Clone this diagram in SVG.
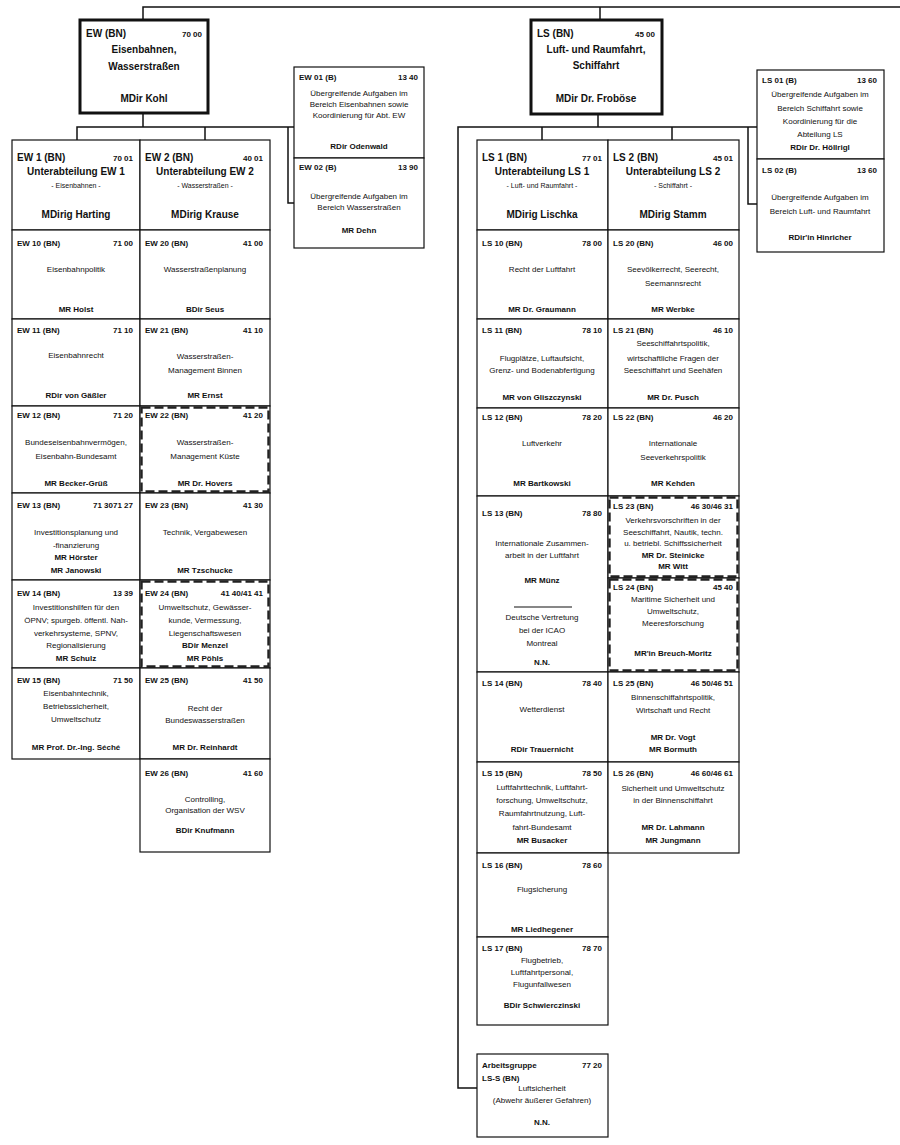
<svg xmlns="http://www.w3.org/2000/svg" width="900" height="1145" viewBox="0 0 900 1145">
<style>
text{font-family:"Liberation Sans",Arial,sans-serif;fill:#111}
.box{fill:#fff;stroke:#111;stroke-width:1.2}
.top{fill:#fff;stroke:#111;stroke-width:3}
.dash{fill:none;stroke:#222;stroke-width:2.4;stroke-dasharray:9 4}
.vd{fill:none;stroke:#111;stroke-width:1;stroke-dasharray:6 2}
.con{fill:none;stroke:#111;stroke-width:1.5}
.lbl{font-size:8px;font-weight:bold}
.num{font-size:8px;font-weight:bold;text-anchor:end}
.t{font-size:8px;text-anchor:middle}
.n{font-size:8px;font-weight:bold;text-anchor:middle}
.hl{font-size:10px;font-weight:bold}
.ht{font-size:10px;font-weight:bold;text-anchor:middle}
.hs{font-size:7px;text-anchor:middle}
</style>
<rect width="900" height="1145" fill="#fff"/>
<g id="connectors">
<path class="con" d="M143,20 V7 H900"/>
<path class="con" d="M600,7 V20"/>
<path class="con" d="M143,113 V127"/>
<path class="con" d="M77,140 V127 H294"/>
<path class="con" d="M205,127 V140"/>
<path class="con" d="M288,127 V203 H294"/>
<path class="con" d="M598,114 V127"/>
<path class="con" d="M477,1088 H458 V127 H757"/>
<path class="con" d="M542,127 V140"/>
<path class="con" d="M672,127 V140"/>
<path class="con" d="M748,127 V204 H757"/>
</g>

<g id="EW">
<rect class="top" x="80" y="20" width="128" height="93"/>
<text class="hl" x="86" y="37">EW (BN)</text><text class="num" x="202" y="37">70 00</text>
<text class="ht" x="144" y="53">Eisenbahnen,</text>
<text class="ht" x="144" y="70">Wasserstraßen</text>
<text class="ht" x="144" y="102">MDir Kohl</text>
</g>
<g id="LS">
<rect class="top" x="531" y="20" width="131" height="94"/>
<text class="hl" x="537" y="37">LS (BN)</text><text class="num" x="655" y="37">45 00</text>
<text class="ht" x="596" y="53">Luft- und Raumfahrt,</text>
<text class="ht" x="596" y="69">Schiffahrt</text>
<text class="ht" x="596" y="102">MDir Dr. Froböse</text>
</g>

<g id="EW01">
<rect class="box" x="294" y="67" width="130" height="91"/>
<text class="lbl" x="299" y="80">EW 01 (B)</text><text class="num" x="418" y="80">13 40</text>
<text class="t" x="359" y="96">Übergreifende Aufgaben im</text>
<text class="t" x="359" y="107">Bereich Eisenbahnen  sowie</text>
<text class="t" x="359" y="118">Koordinierung für Abt. EW</text>
<text class="n" x="359" y="149">RDir Odenwald</text>
</g>
<g id="EW02">
<rect class="box" x="294" y="158" width="130" height="90"/>
<text class="lbl" x="299" y="170">EW 02 (B)</text><text class="num" x="418" y="170">13 90</text>
<text class="t" x="359" y="199">Übergreifende Aufgaben im</text>
<text class="t" x="359" y="210">Bereich Wasserstraßen</text>
<text class="n" x="359" y="233">MR Dehn</text>
</g>

<g id="EW1">
<rect class="box" x="12" y="140" width="128" height="90"/>
<text class="hl" x="17" y="161">EW 1 (BN)</text><text class="num" x="133" y="161">70 01</text>
<text class="ht" x="76" y="175">Unterabteilung EW 1</text>
<text class="hs" x="76" y="188">- Eisenbahnen -</text>
<text class="ht" x="76" y="218">MDirig Harting</text>
</g>
<g id="EW2">
<rect class="box" x="140" y="140" width="130" height="90"/>
<text class="hl" x="145" y="161">EW 2 (BN)</text><text class="num" x="263" y="161">40 01</text>
<text class="ht" x="205" y="175">Unterabteilung EW 2</text>
<text class="hs" x="205" y="188">- Wasserstraßen -</text>
<text class="ht" x="205" y="218">MDirig Krause</text>
</g>

<g id="EW10">
<rect class="box" x="12" y="230" width="128" height="89"/>
<text class="lbl" x="17" y="246">EW 10 (BN)</text><text class="num" x="133" y="246">71 00</text>
<text class="t" x="76" y="272">Eisenbahnpolitik</text>
<text class="n" x="76" y="312">MR Holst</text>
</g>
<g id="EW20">
<rect class="box" x="140" y="230" width="130" height="89"/>
<text class="lbl" x="145" y="246">EW 20 (BN)</text><text class="num" x="263" y="246">41 00</text>
<text class="t" x="205" y="272">Wasserstraßenplanung</text>
<text class="n" x="205" y="312">BDir Seus</text>
</g>
<g id="EW11">
<rect class="box" x="12" y="319" width="128" height="87"/>
<text class="lbl" x="17" y="333">EW 11 (BN)</text><text class="num" x="133" y="333">71 10</text>
<text class="t" x="76" y="358">Eisenbahnrecht</text>
<text class="n" x="76" y="398">RDir von Gäßler</text>
</g>
<g id="EW21">
<rect class="box" x="140" y="319" width="130" height="87"/>
<text class="lbl" x="145" y="333">EW 21 (BN)</text><text class="num" x="263" y="333">41 10</text>
<text class="t" x="205" y="359">Wasserstraßen-</text>
<text class="t" x="205" y="373">Management Binnen</text>
<text class="n" x="205" y="398">MR Ernst</text>
</g>
<g id="EW12">
<rect class="box" x="12" y="406" width="128" height="87"/>
<text class="lbl" x="17" y="418">EW 12 (BN)</text><text class="num" x="133" y="418">71 20</text>
<text class="t" x="76" y="445">Bundeseisenbahnvermögen,</text>
<text class="t" x="76" y="459">Eisenbahn-Bundesamt</text>
<text class="n" x="76" y="486">MR Becker-Grüß</text>
</g>
<g id="EW22">
<rect class="box" x="140" y="406" width="130" height="87"/>
<rect class="dash" x="141.5" y="407.5" width="127" height="84"/>
<text class="lbl" x="145" y="418">EW 22 (BN)</text><text class="num" x="263" y="418">41 20</text>
<text class="t" x="205" y="445">Wasserstraßen-</text>
<text class="t" x="205" y="459">Management Küste</text>
<text class="n" x="205" y="486">MR Dr. Hovers</text>
</g>
<g id="EW13">
<rect class="box" x="12" y="493" width="128" height="87"/>
<text class="lbl" x="17" y="508">EW 13 (BN)</text><text class="num" x="133" y="508">71 3071 27</text>
<text class="t" x="76" y="535">Investitionsplanung und</text>
<text class="t" x="76" y="548">-finanzierung</text>
<text class="n" x="76" y="560">MR Hörster</text>
<text class="n" x="76" y="573">MR Janowski</text>
</g>
<g id="EW23">
<rect class="box" x="140" y="493" width="130" height="87"/>
<text class="lbl" x="145" y="508">EW 23 (BN)</text><text class="num" x="263" y="508">41 30</text>
<text class="t" x="205" y="535">Technik, Vergabewesen</text>
<text class="n" x="205" y="573">MR Tzschucke</text>
</g>
<g id="EW14">
<rect class="box" x="12" y="580" width="128" height="88"/>
<text class="lbl" x="17" y="596">EW 14 (BN)</text><text class="num" x="133" y="596">13 39</text>
<text class="t" x="76" y="610">Investitionshilfen für den</text>
<text class="t" x="76" y="623">ÖPNV; spurgeb. öffentl. Nah-</text>
<text class="t" x="76" y="636">verkehrsysteme, SPNV,</text>
<text class="t" x="76" y="648">Regionalisierung</text>
<text class="n" x="76" y="661">MR Schulz</text>
</g>
<g id="EW24">
<rect class="box" x="140" y="580" width="130" height="88"/>
<rect class="dash" x="141.5" y="581.5" width="127" height="85"/>
<text class="lbl" x="145" y="596">EW 24 (BN)</text><text class="num" x="263" y="596">41 40/41 41</text>
<text class="t" x="205" y="610">Umweltschutz, Gewässer-</text>
<text class="t" x="205" y="623">kunde, Vermessung,</text>
<text class="t" x="205" y="636">Liegenschaftswesen</text>
<text class="n" x="205" y="648">BDir Menzel</text>
<text class="n" x="205" y="661">MR Pöhls</text>
</g>
<g id="EW15">
<rect class="box" x="12" y="668" width="128" height="91"/>
<text class="lbl" x="17" y="683">EW 15 (BN)</text><text class="num" x="133" y="683">71 50</text>
<text class="t" x="76" y="696">Eisenbahntechnik,</text>
<text class="t" x="76" y="709">Betriebssicherheit,</text>
<text class="t" x="76" y="722">Umweltschutz</text>
<text class="n" x="76" y="750">MR Prof. Dr.-Ing. Séché</text>
</g>
<g id="EW25">
<rect class="box" x="140" y="668" width="130" height="91"/>
<text class="lbl" x="145" y="683">EW 25 (BN)</text><text class="num" x="263" y="683">41 50</text>
<text class="t" x="205" y="711">Recht der</text>
<text class="t" x="205" y="723">Bundeswasserstraßen</text>
<text class="n" x="205" y="750">MR Dr. Reinhardt</text>
</g>
<g id="EW26">
<rect class="box" x="140" y="759" width="130" height="93"/>
<text class="lbl" x="145" y="776">EW 26 (BN)</text><text class="num" x="263" y="776">41 60</text>
<text class="t" x="205" y="802">Controlling,</text>
<text class="t" x="205" y="813">Organisation der WSV</text>
<text class="n" x="205" y="833">BDir Knufmann</text>
</g>

<g id="LS01">
<rect class="box" x="757" y="70" width="127" height="89"/>
<text class="lbl" x="762" y="83">LS 01 (B)</text><text class="num" x="877" y="83">13 60</text>
<text class="t" x="820" y="97">Übergreifende Aufgaben im</text>
<text class="t" x="820" y="111">Bereich Schiffahrt sowie</text>
<text class="t" x="820" y="124">Koordinierung für die</text>
<text class="t" x="820" y="137">Abteilung LS</text>
<text class="n" x="820" y="150">RDir Dr. Höllrigl</text>
</g>
<g id="LS02">
<rect class="box" x="757" y="159" width="127" height="93"/>
<text class="lbl" x="762" y="173">LS 02 (B)</text><text class="num" x="877" y="173">13 60</text>
<text class="t" x="820" y="200">Übergreifende Aufgaben im</text>
<text class="t" x="820" y="214">Bereich Luft- und Raumfahrt</text>
<text class="n" x="820" y="240">RDir'in Hinricher</text>
</g>

<g id="LS1">
<rect class="box" x="477" y="140" width="131" height="90"/>
<text class="hl" x="482" y="161">LS 1 (BN)</text><text class="num" x="602" y="161">77 01</text>
<text class="ht" x="542" y="175">Unterabteilung LS 1</text>
<text class="hs" x="542" y="188">- Luft- und Raumfahrt -</text>
<text class="ht" x="542" y="218">MDirig Lischka</text>
</g>
<g id="LS2">
<rect class="box" x="608" y="140" width="131" height="90"/>
<text class="hl" x="613" y="161">LS 2 (BN)</text><text class="num" x="733" y="161">45 01</text>
<text class="ht" x="673" y="175">Unterabteilung LS 2</text>
<text class="hs" x="673" y="188">- Schiffahrt -</text>
<text class="ht" x="673" y="218">MDirig Stamm</text>
</g>

<g id="LS10">
<rect class="box" x="477" y="230" width="131" height="89"/>
<text class="lbl" x="482" y="246">LS 10 (BN)</text><text class="num" x="602" y="246">78 00</text>
<text class="t" x="542" y="272">Recht der Luftfahrt</text>
<text class="n" x="542" y="312">MR Dr. Graumann</text>
</g>
<g id="LS20">
<rect class="box" x="608" y="230" width="131" height="89"/>
<text class="lbl" x="613" y="246">LS 20 (BN)</text><text class="num" x="733" y="246">46 00</text>
<text class="t" x="673" y="272">Seevölkerrecht, Seerecht,</text>
<text class="t" x="673" y="286">Seemannsrecht</text>
<text class="n" x="673" y="312">MR Werbke</text>
</g>
<g id="LS11">
<rect class="box" x="477" y="319" width="131" height="89"/>
<text class="lbl" x="482" y="333">LS 11 (BN)</text><text class="num" x="602" y="333">78 10</text>
<text class="t" x="542" y="361">Flugplätze, Luftaufsicht,</text>
<text class="t" x="542" y="373">Grenz- und Bodenabfertigung</text>
<text class="n" x="542" y="400">MR von Gliszczynski</text>
</g>
<g id="LS21">
<rect class="box" x="608" y="319" width="131" height="89"/>
<text class="lbl" x="613" y="333">LS 21 (BN)</text><text class="num" x="733" y="333">46 10</text>
<text class="t" x="673" y="346">Seeschiffahrtspolitik,</text>
<text class="t" x="673" y="361">wirtschaftliche Fragen der</text>
<text class="t" x="673" y="373">Seeschiffahrt und Seehäfen</text>
<text class="n" x="673" y="400">MR Dr. Pusch</text>
</g>
<g id="LS12">
<rect class="box" x="477" y="408" width="131" height="88"/>
<text class="lbl" x="482" y="420">LS 12 (BN)</text><text class="num" x="602" y="420">78 20</text>
<text class="t" x="542" y="446">Luftverkehr</text>
<text class="n" x="542" y="486">MR Bartkowski</text>
</g>
<g id="LS22">
<rect class="box" x="608" y="408" width="131" height="88"/>
<text class="lbl" x="613" y="420">LS 22 (BN)</text><text class="num" x="733" y="420">46 20</text>
<text class="t" x="673" y="446">Internationale</text>
<text class="t" x="673" y="460">Seeverkehrspolitik</text>
<text class="n" x="673" y="486">MR Kehden</text>
</g>
<g id="LS13">
<rect class="box" x="477" y="496" width="131" height="176"/>
<text class="lbl" x="482" y="516">LS 13 (BN)</text><text class="num" x="602" y="516">78 80</text>
<text class="t" x="542" y="546">Internationale Zusammen-</text>
<text class="t" x="542" y="558">arbeit in der Luftfahrt</text>
<text class="n" x="542" y="583">MR Münz</text>
<line x1="514" y1="607" x2="572" y2="607" stroke="#111" stroke-width="1.2"/>
<text class="t" x="542" y="620">Deutsche Vertretung</text>
<text class="t" x="542" y="633">bei der ICAO</text>
<text class="t" x="542" y="646">Montreal</text>
<text class="n" x="542" y="665">N.N.</text>
</g>
<g id="LS23">
<rect class="box" x="608" y="496" width="131" height="82"/>
<rect class="dash" x="609.5" y="497.5" width="128" height="79"/>
<text class="lbl" x="613" y="509">LS 23 (BN)</text><text class="num" x="733" y="509">46 30/46 31</text>
<text class="t" x="673" y="523">Verkehrsvorschriften in der</text>
<text class="t" x="673" y="535">Seeschiffahrt, Nautik, techn.</text>
<text class="t" x="673" y="546">u. betriebl. Schiffssicherheit</text>
<text class="n" x="673" y="558">MR Dr. Steinicke</text>
<text class="n" x="673" y="569">MR Witt</text>
</g>
<g id="LS24">
<rect class="box" x="608" y="578" width="131" height="94"/>
<rect class="dash" x="609.5" y="579.5" width="128" height="91"/>
<text class="lbl" x="613" y="590">LS 24 (BN)</text><text class="num" x="733" y="590">45 40</text>
<text class="t" x="673" y="602">Maritime Sicherheit und</text>
<text class="t" x="673" y="614">Umweltschutz,</text>
<text class="t" x="673" y="626">Meeresforschung</text>
<text class="n" x="673" y="656">MR'in Breuch-Moritz</text>
</g>
<g id="LS14">
<rect class="box" x="477" y="672" width="131" height="90"/>
<text class="lbl" x="482" y="686">LS 14 (BN)</text><text class="num" x="602" y="686">78 40</text>
<text class="t" x="542" y="712">Wetterdienst</text>
<text class="n" x="542" y="752">RDir Trauernicht</text>
</g>
<g id="LS25">
<rect class="box" x="608" y="672" width="131" height="90"/>
<text class="lbl" x="613" y="686">LS 25 (BN)</text><text class="num" x="733" y="686">46 50/46 51</text>
<text class="t" x="673" y="700">Binnenschiffahrtspolitik,</text>
<text class="t" x="673" y="713">Wirtschaft und Recht</text>
<text class="n" x="673" y="740">MR Dr. Vogt</text>
<text class="n" x="673" y="752">MR Bormuth</text>
</g>
<g id="LS15">
<rect class="box" x="477" y="762" width="131" height="91"/>
<text class="lbl" x="482" y="776">LS 15 (BN)</text><text class="num" x="602" y="776">78 50</text>
<text class="t" x="542" y="790">Luftfahrttechnik, Luftfahrt-</text>
<text class="t" x="542" y="803">forschung, Umweltschutz,</text>
<text class="t" x="542" y="816">Raumfahrtnutzung, Luft-</text>
<text class="t" x="542" y="830">fahrt-Bundesamt</text>
<text class="n" x="542" y="843">MR Busacker</text>
</g>
<g id="LS26">
<rect class="box" x="608" y="762" width="131" height="91"/>
<text class="lbl" x="613" y="776">LS 26 (BN)</text><text class="num" x="733" y="776">46 60/46 61</text>
<text class="t" x="673" y="791">Sicherheit und Umweltschutz</text>
<text class="t" x="673" y="803">in der Binnenschiffahrt</text>
<text class="n" x="673" y="830">MR Dr. Lahmann</text>
<text class="n" x="673" y="843">MR Jungmann</text>
</g>
<g id="LS16">
<rect class="box" x="477" y="853" width="131" height="84"/>
<text class="lbl" x="482" y="868">LS 16 (BN)</text><text class="num" x="602" y="868">78 60</text>
<text class="t" x="542" y="892">Flugsicherung</text>
<text class="n" x="542" y="932">MR Liedhegener</text>
</g>
<g id="LS17">
<rect class="box" x="477" y="937" width="131" height="88"/>
<text class="lbl" x="482" y="951">LS 17 (BN)</text><text class="num" x="602" y="951">78 70</text>
<text class="t" x="542" y="963">Flugbetrieb,</text>
<text class="t" x="542" y="975">Luftfahrtpersonal,</text>
<text class="t" x="542" y="987">Flugunfallwesen</text>
<text class="n" x="542" y="1008">BDir Schwierczinski</text>
</g>
<g id="LS-S">
<rect class="box" x="477" y="1054" width="131" height="83"/>
<text class="lbl" x="482" y="1068">Arbeitsgruppe</text><text class="num" x="602" y="1068">77 20</text>
<text class="lbl" x="482" y="1081">LS-S (BN)</text>
<text class="t" x="542" y="1091">Luftsicherheit</text>
<text class="t" x="542" y="1103">(Abwehr äußerer Gefahren)</text>
<text class="n" x="542" y="1125">N.N.</text>
</g>
</svg>
